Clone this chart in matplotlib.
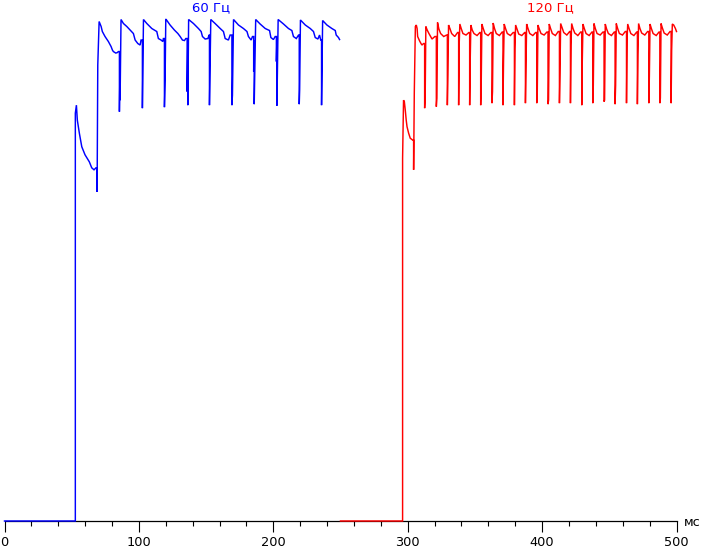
import matplotlib
matplotlib.use("Agg")
import matplotlib.pyplot as plt

# ---------------- data (time in ms, brightness in arbitrary %) ----------------
blue_t = [0, 52.7, 52.7, 53.5, 54.2, 55.7, 57.5, 59.9, 63.1, 64.9, 66.6, 68.1, 68.9, 68.9, 69.4, 70.4,
          71.9, 72.8, 74.8, 77.3, 79.3, 80.3, 81.0, 82.8, 84.0, 84.7, 85.5, 85.5, 86.0, 86.0, 86.7,
          88.5, 91.0, 93.4, 95.9, 97.2, 99.2, 100.9, 101.6, 102.6, 102.6, 103.4,
          105.9, 109.6, 113.3, 114.5, 116.5, 117.8, 118.2, 119.0, 119.0, 119.5, 120.0, 120.3,
          123.2, 126.4, 129.0, 130.7, 132.4, 133.9, 134.9, 135.9, 135.9, 136.4, 136.4, 137.0,
          140.6, 144.3, 146.3, 147.3, 149.3, 151.3, 152.3, 152.5, 152.5, 153.5,
          156.7, 160.5, 162.9, 164.2, 166.6, 167.9, 169.2, 169.2, 169.6, 170.4,
          174.1, 177.8, 180.4, 181.5, 183.5, 184.5, 185.4, 185.4, 185.8, 185.8, 186.9,
          190.2, 194.0, 197.2, 198.2, 200.1, 201.4, 202.3, 202.3, 202.7, 202.7, 203.6,
          207.6, 211.3, 213.8, 215.0, 217.1, 218.8, 219.3, 219.3, 219.6, 220.2,
          223.8, 227.5, 229.9, 231.2, 233.2, 234.4, 235.3, 235.9, 235.9, 236.7,
          239.9, 243.6, 246.1, 246.8, 248.5, 249.3]
blue_v = [0, 0, 81.4, 83.0, 80.0, 77.4, 74.7, 73.1, 71.7, 70.5, 70.1, 70.5, 70.5, 65.7, 91.0, 99.7,
          98.7, 97.7, 96.7, 95.7, 94.7, 94.0, 93.7, 93.4, 93.5, 93.7, 93.7, 81.7, 92.0, 84.0, 100.1,
          99.3, 98.7, 98.0, 97.3, 96.0, 95.3, 95.0, 96.0, 96.0, 82.4, 100.1,
          99.3, 98.3, 97.7, 96.3, 96.0, 95.7, 96.3, 96.3, 82.6, 88.0, 100.1, 100.1,
          99.0, 98.0, 97.3, 96.7, 96.0, 95.9, 96.3, 96.3, 85.7, 96.0, 83.0, 100.1,
          99.3, 98.3, 97.7, 96.7, 96.2, 96.3, 97.0, 97.0, 83.0, 100.1,
          99.3, 98.3, 97.7, 96.3, 96.0, 97.0, 97.0, 83.0, 85.0, 100.1,
          99.0, 98.3, 97.7, 96.7, 96.0, 96.7, 96.7, 89.7, 96.0, 83.2, 100.1,
          99.2, 98.3, 97.9, 96.5, 96.1, 96.7, 96.7, 91.7, 96.5, 82.9, 100.1,
          99.2, 98.3, 97.9, 96.7, 96.3, 97.0, 97.0, 83.2, 86.0, 100.0,
          99.0, 98.3, 97.7, 96.5, 96.2, 97.0, 96.0, 96.0, 83.0, 99.9,
          99.0, 98.3, 97.9, 97.0, 96.5, 96.1]

red_t = [250, 296.2, 296.2, 296.9, 297.5, 298.2, 298.9, 299.5, 300.7, 301.9, 303.9, 304.4, 304.4,
         304.9, 305.7, 306.4, 307.0, 307.4, 308.9, 309.9, 310.6, 311.8,
         312.6, 312.6, 313.0, 313.5, 314.5, 315.8, 318.1, 320.2,
         321.3, 321.3, 321.7, 322.2, 323.2, 324.5, 326.8, 328.9,
         329.5, 329.5, 329.9, 330.4, 331.4, 332.7, 335.0, 337.1,
         337.9, 337.9, 338.3, 338.8, 339.8, 341.1, 343.4, 345.5,
         346.1, 346.1, 346.5, 347.0, 348.0, 349.3, 351.6, 353.7,
         354.3, 354.3, 354.7, 355.2, 356.2, 357.5, 359.8, 361.9,
         362.7, 362.7, 363.1, 363.6, 364.6, 365.9, 368.2, 370.3,
         370.9, 370.9, 371.3, 371.8, 372.8, 374.1, 376.4, 378.5,
         379.4, 379.4, 379.8, 380.3, 381.3, 382.6, 384.9, 387.0,
         387.6, 387.6, 388.0, 388.5, 389.5, 390.8, 393.1, 395.2,
         396.0, 396.0, 396.4, 396.9, 397.9, 399.2, 401.5, 403.6,
         404.4, 404.4, 404.8, 405.3, 406.3, 407.6, 409.9, 412.0,
         412.9, 412.9, 413.3, 413.8, 414.8, 416.1, 418.4, 420.5,
         421.1, 421.1, 421.5, 422.0, 423.0, 424.3, 426.6, 428.7,
         429.5, 429.5, 429.9, 430.4, 431.4, 432.7, 435.0, 437.1,
         437.7, 437.7, 438.1, 438.6, 439.6, 440.9, 443.2, 445.3,
         446.1, 446.1, 446.5, 447.0, 448.0, 449.3, 451.6, 453.7,
         454.3, 454.3, 454.7, 455.2, 456.2, 457.5, 459.8, 461.9,
         462.8, 462.8, 463.2, 463.7, 464.7, 466.0, 468.3, 470.4,
         470.9, 470.9, 471.3, 471.8, 472.8, 474.1, 476.4, 478.5,
         479.4, 479.4, 479.8, 480.3, 481.3, 482.6, 484.9, 487.0,
         487.6, 487.6, 488.0, 488.5, 489.5, 490.8, 493.1, 495.2,
         496.0, 496.0, 496.4, 496.9, 497.9, 499.2, 500.0]
red_v = [0, 0, 72.4, 84.0, 83.7, 82.0, 80.0, 78.7, 77.4, 76.4, 76.0, 76.0, 70.1,
         85.4, 98.7, 99.0, 98.3, 96.7, 95.8, 95.3, 95.0, 95.3,
         95.3, 82.4, 84.4, 98.7, 98.0, 97.3, 96.2, 96.7,
         96.7, 82.7, 84.4, 99.5, 98.2, 97.3, 96.7, 97.0,
         97.0, 83.0, 89.0, 99.0, 98.3, 97.3, 96.7, 97.5,
         97.5, 83.0, 95.0, 99.2, 98.3, 97.3, 97.0, 97.5,
         97.5, 83.0, 91.8, 99.0, 98.0, 97.3, 96.9, 97.5,
         97.5, 83.0, 87.0, 99.2, 98.3, 97.3, 96.9, 97.5,
         97.5, 83.4, 85.7, 99.4, 98.3, 97.3, 96.9, 97.6,
         97.6, 83.0, 91.7, 99.2, 98.3, 97.3, 96.9, 97.5,
         97.5, 83.0, 94.3, 99.0, 98.2, 97.2, 96.9, 97.5,
         97.5, 83.4, 90.4, 99.2, 98.3, 97.3, 96.9, 97.5,
         97.5, 83.4, 85.4, 99.0, 98.2, 97.3, 97.0, 97.6,
         97.6, 83.2, 84.0, 99.2, 98.3, 97.3, 96.9, 97.7,
         97.7, 83.4, 89.4, 99.3, 98.5, 97.5, 97.0, 97.7,
         97.7, 83.4, 95.0, 99.3, 98.3, 97.4, 96.9, 97.6,
         97.6, 83.0, 91.8, 99.2, 98.3, 97.3, 96.9, 97.6,
         97.6, 83.4, 87.0, 99.3, 98.3, 97.3, 97.0, 97.6,
         97.6, 83.7, 84.0, 99.2, 98.2, 97.3, 96.9, 97.6,
         97.6, 83.2, 87.0, 99.3, 98.3, 97.3, 97.0, 97.7,
         97.7, 83.4, 96.0, 99.2, 98.3, 97.3, 96.9, 97.6,
         97.6, 83.2, 93.0, 99.3, 98.3, 97.4, 97.0, 97.7,
         97.7, 83.4, 88.7, 99.2, 98.3, 97.3, 96.9, 97.6,
         97.6, 83.4, 84.4, 99.3, 98.4, 97.4, 97.0, 97.7,
         97.7, 83.4, 94.0, 99.2, 99.0, 98.3, 97.7]

label_blue = "60 Гц"
label_red = "120 Гц"
unit_label = "мс"
x_major = [0, 100, 200, 300, 400, 500]
x_minor = [20, 40, 60, 80, 120, 140, 160, 180, 220, 240, 260, 280,
           320, 340, 360, 380, 420, 440, 460, 480]

# ---------------- drawing ----------------
plt.rcParams['font.family'] = ['DejaVu Sans']
W, H = 703, 549
fig = plt.figure(figsize=(W / 100, H / 100), dpi=100)
fig.patch.set_facecolor('white')

x0_px, x1_px = 4.5, 676.5
y0_px, y100_px = 521.0, 20.0
ax = fig.add_axes([x0_px / W, (H - y0_px) / H, (x1_px - x0_px) / W, (y0_px - y100_px) / H])
ax.set_xlim(0, 500)
ax.set_ylim(0, 100)
ax.set_facecolor('none')

for s in ['top', 'right', 'left']:
    ax.spines[s].set_visible(False)
ax.spines['bottom'].set_linewidth(0.9)
ax.spines['bottom'].set_color('black')
ax.spines['bottom'].set_zorder(1)

ax.set_xticks(x_major)
ax.set_xticks(x_minor, minor=True)
ax.set_xticklabels([str(v) for v in x_major])
ax.tick_params(axis='x', which='major', length=8, width=0.8, direction='out',
               labelsize=9.3, pad=3, colors='black')
ax.tick_params(axis='x', which='minor', length=3.3, width=0.8, direction='out')
ax.set_yticks([])

ax.plot(blue_t, blue_v, color='#0000FF', lw=1.05, clip_on=False, zorder=3,
        solid_joinstyle='miter')
ax.plot(red_t, red_v, color='#FF0000', lw=1.05, clip_on=False, zorder=3,
        solid_joinstyle='miter')

fig.text(211 / W, 1 - 1.0 / H, label_blue, color='#0000FF', fontsize=9.5,
         ha='center', va='top')
fig.text(550 / W, 1 - 1.0 / H, label_red, color='#FF0000', fontsize=9.5,
         ha='center', va='top')
fig.text(684 / W, (H - 526) / H, unit_label, color='black', fontsize=9.3,
         ha='left', va='baseline')

fig.savefig('out.png', dpi=100, facecolor='white')
